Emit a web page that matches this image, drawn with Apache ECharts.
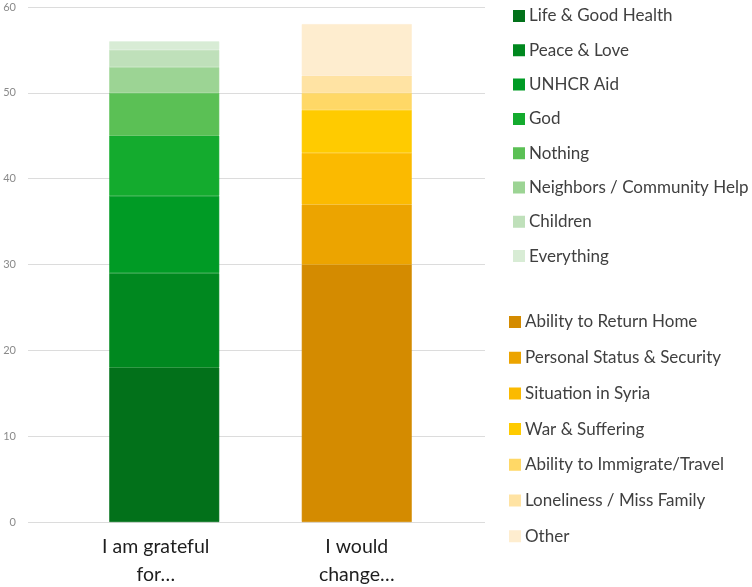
<!DOCTYPE html>
<html>
<head>
<meta charset="utf-8">
<script src="https://cdn.jsdelivr.net/npm/echarts@6/dist/echarts.min.js"></script>
<style>
  html, body {margin: 0; padding: 0; background: #fff;}
  #main {width: 752px; height: 587px;}
</style>
</head>
<body>
<div id="main"></div>
<script>
const categories = ['I am grateful\nfor…', 'I would\nchange…'];

const gratefulNames = ['Life & Good Health', 'Peace & Love', 'UNHCR Aid', 'God', 'Nothing',
  'Neighbors / Community Help', 'Children', 'Everything'];
const gratefulValues = [18, 11, 9, 7, 5, 3, 2, 1];
const gratefulColors = ['#02711a', '#00881f', '#009b25', '#14ab2e', '#5bc055', '#9cd494', '#bfe0ba', '#d8ecd5'];

const changeNames = ['Ability to Return Home', 'Personal Status & Security', 'Situation in Syria',
  'War & Suffering', 'Ability to Immigrate/Travel', 'Loneliness / Miss Family', 'Other'];
const changeValues = [30, 7, 6, 5, 2, 2, 6];
const changeColors = ['#d48b00', '#eca400', '#fbba00', '#ffcb00', '#ffd866', '#ffe3a3', '#feedcf'];

const yMin = 0, yMax = 60, yStep = 10;

const font = 'Lato, "Open Sans", sans-serif';

function makeSeries(names, values, colors, slot) {
  return names.map((name, i) => ({
    name: name,
    type: 'bar',
    stack: 'total',
    xAxisIndex: 1,
    yAxisIndex: 1,
    barWidth: 110,
    // same-colour stroke hides the light seams between stacked segments
    itemStyle: {color: colors[i], borderColor: colors[i], borderWidth: 0.6},
    emphasis: {disabled: true},
    data: categories.map((c, j) => (j === slot ? values[i] : '-')),
  }));
}

const legendText = {fontFamily: font, fontSize: 17, color: '#404040', lineHeight: 20};

const chart = echarts.init(document.getElementById('main'));
chart.setOption({
  animation: false,
  textStyle: {fontFamily: font},
  grid: [
    {left: 28, right: 267, top: 7, bottom: 65, outerBoundsMode: 'none'},
    {left: 68, right: 299, top: 7, bottom: 65, outerBoundsMode: 'none'},
  ],
  xAxis: [
    {
      gridIndex: 0,
      type: 'category',
      data: categories,
      axisLine: {show: false},
      axisTick: {show: false},
      axisLabel: {show: false},
    },
    {
      gridIndex: 1,
      type: 'category',
      data: categories,
      axisLine: {show: false},
      axisTick: {show: false},
      axisLabel: {
        margin: 11,
        fontFamily: font,
        fontSize: 19.5,
        lineHeight: 28,
        color: '#1e1e1e',
        formatter: (value, index) => (index === 0 ? '{g|' + value + '}' : value),
        rich: {
          g: {
            fontFamily: font,
            fontSize: 19.5,
            lineHeight: 28,
            color: '#1e1e1e',
            padding: [0, 17, 0, 0],
          },
        },
      },
    },
  ],
  yAxis: [
    {
      gridIndex: 0,
      type: 'value',
      min: yMin,
      max: yMax,
      interval: yStep,
      axisLine: {show: false},
      axisTick: {show: false},
      axisLabel: {margin: 12, fontFamily: font, fontSize: 11, color: '#8a8a8a'},
      splitLine: {lineStyle: {color: '#dcdcdc', width: 1}},
    },
    {
      gridIndex: 1,
      type: 'value',
      min: yMin,
      max: yMax,
      interval: yStep,
      show: false,
      splitLine: {show: false},
    },
  ],
  legend: [
    {
      orient: 'vertical',
      left: 508,
      top: 1,
      itemWidth: 10,
      itemHeight: 10,
      itemGap: 14.3,
      icon: 'rect',
      selectedMode: false,
      textStyle: legendText,
      data: gratefulNames,
    },
    {
      orient: 'vertical',
      left: 504,
      top: 307,
      itemWidth: 10,
      itemHeight: 10,
      itemGap: 15.7,
      icon: 'rect',
      selectedMode: false,
      textStyle: legendText,
      data: changeNames,
    },
  ],
  series: [
    ...makeSeries(gratefulNames, gratefulValues, gratefulColors, 0),
    ...makeSeries(changeNames, changeValues, changeColors, 1),
  ],
});
</script>
</body>
</html>
